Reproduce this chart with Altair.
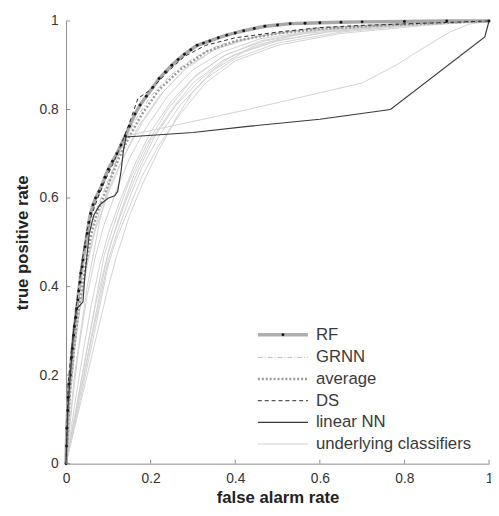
import altair as alt
import pandas as pd

# ---------------- data ----------------
RF_X = [0, 0.001, 0.002, 0.004, 0.005, 0.007, 0.01, 0.013, 0.015, 0.018, 0.02, 0.023, 0.025, 0.028, 0.03,
        0.033, 0.035, 0.038, 0.04, 0.045, 0.05, 0.054, 0.058, 0.064, 0.07, 0.078, 0.085, 0.092, 0.1, 0.11,
        0.12, 0.13, 0.14, 0.15, 0.163, 0.175, 0.19, 0.205, 0.22, 0.235, 0.25, 0.265, 0.28, 0.295, 0.31,
        0.325, 0.34, 0.36, 0.38, 0.4, 0.42, 0.445, 0.47, 0.5, 0.53, 0.565, 0.6, 0.65, 0.7, 0.8, 0.9, 1]
RF_Y = [0, 0.04, 0.08, 0.12, 0.15, 0.18, 0.2, 0.24, 0.26, 0.29, 0.31, 0.33, 0.35, 0.37, 0.39,
        0.41, 0.43, 0.445, 0.46, 0.49, 0.52, 0.545, 0.565, 0.585, 0.6, 0.615, 0.63, 0.647, 0.665, 0.683,
        0.7, 0.72, 0.74, 0.762, 0.79, 0.81, 0.83, 0.85, 0.87, 0.885, 0.9, 0.913, 0.925, 0.935, 0.945,
        0.95, 0.955, 0.962, 0.968, 0.973, 0.978, 0.983, 0.988, 0.991, 0.994, 0.995, 0.996, 0.997, 0.998, 0.999, 1, 1]

GRNN_X = [0, 0.008, 0.02, 0.035, 0.05, 0.07, 0.1, 0.13, 0.16, 0.2, 0.25, 0.3, 0.36, 0.45, 0.55, 0.7, 0.85, 1]
GRNN_Y = [0, 0.2, 0.3, 0.42, 0.5, 0.57, 0.64, 0.71, 0.77, 0.83, 0.88, 0.915, 0.945, 0.965, 0.978, 0.988, 0.995, 1]

AVG_X = [0, 0.01, 0.02, 0.03, 0.045, 0.06, 0.075, 0.1, 0.125, 0.15, 0.18, 0.22, 0.27, 0.33, 0.4, 0.5, 0.6, 0.75, 0.9, 1]
AVG_Y = [0, 0.17, 0.27, 0.35, 0.44, 0.52, 0.57, 0.63, 0.69, 0.74, 0.79, 0.845, 0.89, 0.93, 0.955, 0.972, 0.982, 0.99, 0.996, 1]

DS_X = [0, 0.005, 0.012, 0.02, 0.03, 0.04, 0.05, 0.06, 0.075, 0.09, 0.11, 0.13, 0.15, 0.17, 0.2, 0.24,
        0.28, 0.33, 0.4, 0.5, 0.6, 0.7, 0.85, 1]
DS_Y = [0, 0.18, 0.25, 0.32, 0.4, 0.47, 0.53, 0.56, 0.6, 0.635, 0.675, 0.72, 0.77, 0.825, 0.845, 0.885,
        0.92, 0.945, 0.962, 0.975, 0.985, 0.99, 0.995, 1]

LNN_X = [0, 0.004, 0.01, 0.018, 0.025, 0.04, 0.045, 0.055, 0.065, 0.08, 0.1, 0.115, 0.122, 0.13, 0.136, 0.142,
         0.3, 0.43, 0.6, 0.767, 0.99, 1]
LNN_Y = [0, 0.12, 0.2, 0.3, 0.35, 0.365, 0.43, 0.52, 0.56, 0.585, 0.6, 0.605, 0.615, 0.66, 0.71, 0.738,
         0.748, 0.762, 0.778, 0.8, 0.964, 1]

# underlying classifiers
U_X = [
    [0, 0.01, 0.025, 0.04, 0.06, 0.08, 0.11, 0.14, 0.18, 0.23, 0.29, 0.36, 0.45, 0.6, 0.8, 1],
    [0, 0.015, 0.03, 0.05, 0.07, 0.09, 0.12, 0.15, 0.19, 0.24, 0.3, 0.37, 0.46, 0.6, 0.8, 1],
    [0, 0.02, 0.04, 0.06, 0.08, 0.1, 0.13, 0.16, 0.2, 0.25, 0.31, 0.38, 0.47, 0.6, 0.8, 1],
    [0, 0.025, 0.05, 0.07, 0.09, 0.11, 0.14, 0.17, 0.21, 0.26, 0.32, 0.39, 0.48, 0.62, 0.8, 1],
    [0, 0.03, 0.06, 0.08, 0.1, 0.12, 0.15, 0.18, 0.22, 0.27, 0.33, 0.4, 0.5, 0.65, 0.82, 1],
    [0, 0.035, 0.07, 0.1, 0.12, 0.15, 0.18, 0.22, 0.27, 0.33, 0.4, 0.5, 0.65, 0.85, 1],
    [0, 0.04, 0.08, 0.1, 0.12, 0.15, 0.18, 0.22, 0.26, 0.3, 0.35, 0.42, 0.5, 0.62, 0.8, 1],
    [0, 0.1, 0.13, 0.16, 0.2, 0.25, 0.3, 0.37, 0.45, 0.55, 0.7, 1],
    [0, 0.09, 0.12, 0.15, 0.19, 0.24, 0.3, 0.37, 0.46, 0.6, 1],
    [0, 0.02, 0.05, 0.08, 0.11, 0.14, 0.43, 0.7, 0.78, 0.85, 0.907, 0.953, 1],
    [0, 0.005, 0.015, 0.03, 0.05, 0.07, 0.1, 0.13, 0.17, 0.22, 0.28, 0.35, 0.45, 0.6, 1],
]
U_Y = [
    [0, 0.15, 0.3, 0.4, 0.5, 0.57, 0.64, 0.7, 0.77, 0.84, 0.9, 0.94, 0.965, 0.985, 0.995, 1],
    [0, 0.14, 0.26, 0.38, 0.47, 0.54, 0.62, 0.69, 0.76, 0.83, 0.89, 0.93, 0.96, 0.98, 0.993, 1],
    [0, 0.13, 0.25, 0.36, 0.45, 0.52, 0.6, 0.67, 0.75, 0.82, 0.88, 0.925, 0.955, 0.978, 0.992, 1],
    [0, 0.13, 0.26, 0.36, 0.44, 0.51, 0.59, 0.66, 0.74, 0.81, 0.87, 0.92, 0.952, 0.976, 0.99, 1],
    [0, 0.14, 0.28, 0.37, 0.46, 0.52, 0.6, 0.67, 0.74, 0.81, 0.87, 0.915, 0.95, 0.975, 0.99, 1],
    [0, 0.15, 0.31, 0.45, 0.51, 0.58, 0.65, 0.72, 0.79, 0.86, 0.91, 0.945, 0.972, 0.99, 1],
    [0, 0.16, 0.32, 0.4, 0.47, 0.56, 0.63, 0.71, 0.78, 0.84, 0.89, 0.93, 0.955, 0.975, 0.99, 1],
    [0, 0.48, 0.57, 0.65, 0.73, 0.8, 0.86, 0.91, 0.945, 0.97, 0.985, 1],
    [0, 0.47, 0.56, 0.64, 0.72, 0.8, 0.87, 0.92, 0.955, 0.98, 1],
    [0, 0.2, 0.4, 0.55, 0.66, 0.74, 0.8, 0.86, 0.9, 0.942, 0.975, 0.993, 1],
    [0, 0.1, 0.22, 0.33, 0.45, 0.53, 0.61, 0.68, 0.76, 0.83, 0.89, 0.935, 0.965, 0.985, 1],
]

TICKS = [0, 0.2, 0.4, 0.6, 0.8, 1]
LEGEND_LABELS = ["RF", "GRNN", "average", "DS", "linear NN", "underlying classifiers"]

# ---------------- tables ----------------
def series_df(name, xs, ys):
    return pd.DataFrame({"series": name, "fx": xs, "ty": ys, "order": range(len(xs))})

df_rf = series_df("RF", RF_X, RF_Y)
df_grnn = series_df("GRNN", GRNN_X, GRNN_Y)
df_avg = series_df("average", AVG_X, AVG_Y)
df_ds = series_df("DS", DS_X, DS_Y)
df_lnn = series_df("linear NN", LNN_X, LNN_Y)
df_u = pd.concat([series_df(f"u{i}", xs, ys) for i, (xs, ys) in enumerate(zip(U_X, U_Y))],
                 ignore_index=True)
df_ticks = pd.DataFrame({"t": TICKS})

W, H = 430, 450
FONT = "Liberation Sans"

xs = alt.Scale(domain=[0, 1], nice=False, zero=False)
ys = alt.Scale(domain=[0, 1], nice=False, zero=False)

X = alt.X("fx:Q", scale=xs,
          axis=alt.Axis(title="false alarm rate", values=TICKS, format="~g", ticks=False,
                        grid=False, labelPadding=8, titlePadding=5, domainColor="#8a8a8a",
                        labelFlush=False))
Y = alt.Y("ty:Q", scale=ys,
          axis=alt.Axis(title="true positive rate", values=TICKS, format="~g", ticks=False,
                        grid=False, labelPadding=8, titlePadding=8, domainColor="#8a8a8a",
                        labelFlush=False))

def line(df, **kw):
    return alt.Chart(df).mark_line(**kw).encode(x=X, y=Y, detail="series:N", order="order:Q")

under = line(df_u, color="#d2d2d2", strokeWidth=1)
rf_line = line(df_rf, color="#a8a8a8", strokeWidth=3.5)
lnn = line(df_lnn, color="#3a3a3a", strokeWidth=1.2)
ds = line(df_ds, color="#2a2a2a", strokeWidth=1, strokeDash=[4, 3])
avg = line(df_avg, color="#9a9a9a", strokeWidth=2.5, strokeDash=[2, 2])
grnn = line(df_grnn, color="#bdbdbd", strokeWidth=1, strokeDash=[5, 2, 1, 2])
rf_pts = alt.Chart(df_rf).mark_point(filled=True, color="#1a1a1a", size=9, opacity=1).encode(x=X, y=Y)

xticks = alt.Chart(df_ticks).mark_rule(color="#8a8a8a").encode(
    x=alt.X("t:Q", scale=xs), y=alt.value(H), y2=alt.value(H - 4))
yticks = alt.Chart(df_ticks).mark_rule(color="#8a8a8a").encode(
    y=alt.Y("t:Q", scale=ys), x=alt.value(0), x2=alt.value(4))

# ---------------- hand-built legend ----------------
LX1, LX2, LT = 195, 246, 254
ROW_Y = [319, 342, 364, 386, 408, 430]
leg_styles = [
    dict(color="#b0b0b0", strokeWidth=3.5),
    dict(color="#bdbdbd", strokeWidth=1, strokeDash=[5, 2, 1, 2]),
    dict(color="#9a9a9a", strokeWidth=2.5, strokeDash=[2, 2]),
    dict(color="#2a2a2a", strokeWidth=1, strokeDash=[4, 3]),
    dict(color="#3a3a3a", strokeWidth=1.2),
    dict(color="#d2d2d2", strokeWidth=1),
]
legend_layers = []
for lab, yy, st in zip(LEGEND_LABELS, ROW_Y, leg_styles):
    one = pd.DataFrame({"label": [lab]})
    legend_layers.append(alt.Chart(one).mark_rule(**st).encode(
        x=alt.value(LX1), x2=alt.value(LX2), y=alt.value(yy)))
    legend_layers.append(alt.Chart(one).mark_text(
        align="left", baseline="middle", font=FONT, fontSize=17, color="#3a3a3a").encode(
        x=alt.value(LT), y=alt.value(yy), text="label:N"))
legend_layers.append(alt.Chart(pd.DataFrame({"label": ["RF"]})).mark_point(
    filled=True, color="#1a1a1a", size=9, opacity=1).encode(
    x=alt.value((LX1 + LX2) / 2), y=alt.value(ROW_Y[0])))

chart = alt.layer(under, rf_line, grnn, avg, ds, lnn, rf_pts, xticks, yticks, *legend_layers).properties(
    width=W, height=H,
    autosize=alt.AutoSizeParams(type="none"),
    padding={"left": 59, "top": 9, "right": 2, "bottom": 48},
).configure_view(stroke=None).configure_axis(
    labelFont=FONT, labelFontSize=14, labelColor="#333333",
    titleFont=FONT, titleFontSize=17, titleFontWeight="bold", titleColor="#222222",
)

chart.save("out.html", embed_options={"renderer": "svg", "actions": False})
